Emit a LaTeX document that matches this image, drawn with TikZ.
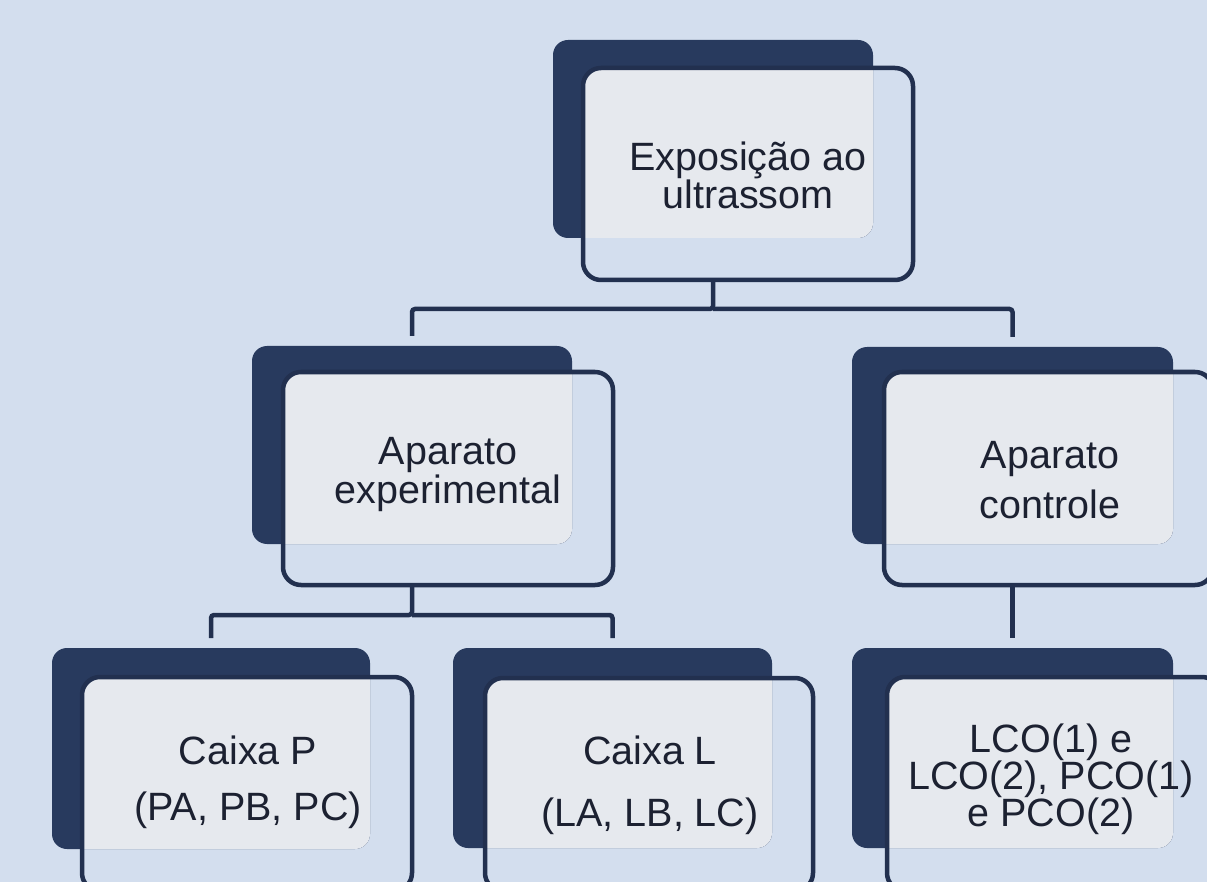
\documentclass[tikz,border=0pt]{standalone}
\usepackage{fontspec}
\setmainfont{Liberation Sans}
\usetikzlibrary{fit}
\definecolor{bgblue}{HTML}{D3DEEE}
\definecolor{navy}{HTML}{283A5E}
\definecolor{lightfill}{HTML}{E6E9EE}
\definecolor{txtcol}{HTML}{1C2131}
\definecolor{linecol}{HTML}{22304F}
\tikzset{
  backbox/.style={fill=navy, rounded corners=15pt, inner sep=0pt, outer sep=0pt},
  outbox/.style={draw=linecol, line width=4.5pt, rounded corners=18pt, inner sep=0pt, outer sep=0pt},
  conn/.style={draw=linecol, line width=4.5pt, rounded corners=3pt, shorten >=10pt},
  label/.style={text=txtcol, align=center, inner sep=0pt},
}
\newcommand\smartbox[9]{%
  \node[backbox, fit={(#2,#3) (#4,#5)}] (#1B) {};
  \begin{scope}
    \clip[rounded corners=15pt] (#2,#3) rectangle (#4,#5);
    \fill[lightfill, rounded corners=18pt] (#6,#7) rectangle (#8,#9);
  \end{scope}
  \node[outbox, fit={(#6,#7) (#8,#9)}] (#1O) {};
}
\begin{document}
\begin{tikzpicture}[x=1pt,y=-1pt]
\useasboundingbox (0,0) rectangle (1207,882);
\clip (0,0) rectangle (1207,882);
\fill[bgblue] (0,0) rectangle (1207,882);

\smartbox{top}{553}{40}{873}{238}{583}{68}{913}{280}
\smartbox{midL}{252}{346}{572}{544}{283}{372}{613}{585}
\smartbox{midR}{852}{347}{1173}{544}{884}{372}{1213}{585}
\smartbox{botL}{52}{648}{370}{849}{82}{677}{412}{891}
\smartbox{botM}{453}{648}{772}{848}{485}{678}{813}{891}
\smartbox{botR}{852}{648}{1173}{848}{887}{677}{1220}{891}

\node[label, font=\fontsize{39.5}{35}\selectfont] (topT) at (748,175) {Exposição ao\\ultrassom};
\node[label, font=\fontsize{39.5}{39}\selectfont] (midLT) at (448,475) {Aparato\\experimental};
\node[label, font=\fontsize{39.5}{50}\selectfont] (midRT) at (1050,480) {Aparato\\controle};
\node[label, font=\fontsize{39.5}{56}\selectfont] (botLT) at (248,782) {Caixa P\\(PA, PB, PC)};
\node[label, font=\fontsize{39.5}{62}\selectfont] (botMT) at (650,785) {Caixa L\\(LA, LB, LC)};
\node[label, font=\fontsize{39.5}{37}\selectfont] (botRT) at (1051,779) {LCO(1) e\\LCO(2), PCO(1)\\e PCO(2)};

\coordinate (bar1) at (0,309);
\coordinate (bar2) at (0,615);
\draw[conn] (topB.south |- topO.south) -- (topB.south |- bar1) -| (midLB.north);
\draw[conn] (topB.south |- bar1) -| (midRB.north);
\draw[conn] (midLB.south |- midLO.south) -- (midLB.south |- bar2) -| (botLB.north);
\draw[conn] (midLB.south |- bar2) -| (botMB.north);
\draw[conn] (midRB.south |- midRO.south) -- (botRB.north);
\end{tikzpicture}
\end{document}
